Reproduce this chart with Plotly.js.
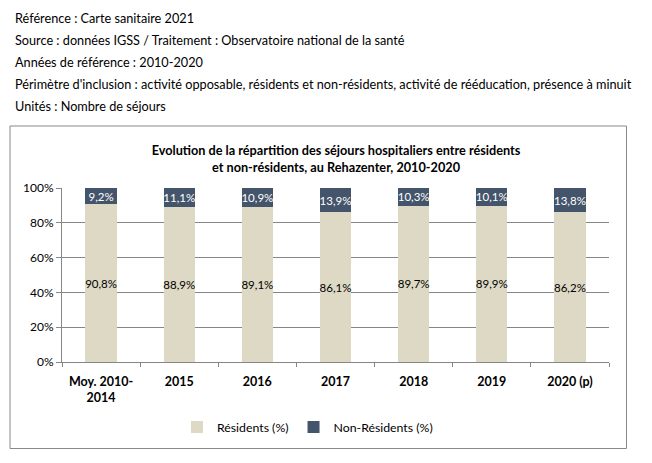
<!DOCTYPE html>
<html><head><meta charset="utf-8">
<script src="https://cdn.plot.ly/plotly-3.0.1.min.js"></script>
<style>html,body{margin:0;padding:0;background:#fff}#c{width:652px;height:463px}</style>
</head><body><div id="c"></div>
<script>
var categories = ["Moy. 2010-<br>2014", "2015", "2016", "2017", "2018", "2019", "2020 (p)"];
var residents = [90.8, 88.9, 89.1, 86.1, 89.7, 89.9, 86.2];
var nonResidents = [9.2, 11.1, 10.9, 13.9, 10.3, 10.1, 13.8];
var yTickVals = [0, 20, 40, 60, 80, 100];
var yTickLabels = ["0%", "20%", "40%", "60%", "80%", "100%"];
var headerLines = [
  "Référence : Carte sanitaire 2021",
  "Source : données IGSS / Traitement : Observatoire national de la santé",
  "Années de référence : 2010-2020",
  "Périmètre d'inclusion : activité opposable, résidents et non-résidents, activité de rééducation, présence à minuit",
  "Unités : Nombre de séjours"
];

var FONT = "Lato, Roboto, sans-serif";
var W = 652, H = 463;
var PL = 62, PR = 609, PT = 188, PB = 362;
function px(x){ return (x - PL) / (PR - PL); }
function py(y){ return (PB - y) / (PB - PT); }

var traces = [
  {type:'bar', name:'Résidents (%)', x:categories, y:residents,
   marker:{color:'#DDD9C4'}, texttemplate:'%{y:.1f}%',
   textposition:'inside', insidetextanchor:'middle', constraintext:'none', textangle:0,
   textfont:{family:FONT, size:11.5, color:'#000'}, hoverinfo:'none'},
  {type:'bar', name:'Non-Résidents (%)', x:categories, y:nonResidents,
   marker:{color:'#44546A'}, texttemplate:'%{y:.1f}%',
   textposition:'inside', insidetextanchor:'middle', constraintext:'none', textangle:0,
   textfont:{family:FONT, size:11.5, color:'#fff'}, hoverinfo:'none'}
];

var annotations = headerLines.map(function(t, i){
  return {text:t, xref:'paper', yref:'paper', x:px(13), y:py(17.5 + i*22.1),
          xanchor:'left', yanchor:'middle', showarrow:false,
          font:{family:FONT, size:12.7, color:'#000'}};
});

var layout = {
  width:W, height:H,
  margin:{l:PL, r:W-PR, t:PT, b:H-PB, pad:0},
  paper_bgcolor:'#fff', plot_bgcolor:'#fff',
  separators:', ',
  barmode:'stack', bargap:0.6,
  font:{family:FONT, size:12, color:'#000'},
  title:{text:'<b>Evolution de la répartition des séjours hospitaliers entre résidents<br>et non-résidents, au Rehazenter, 2010-2020</b>',
         x:336/W, y:1-155/H, xanchor:'center', yanchor:'middle', xref:'container', yref:'container',
         font:{family:FONT, size:12.7, color:'#000'}},
  xaxis:{type:'category', showgrid:false, showline:true, linecolor:'#868686', linewidth:1,
         ticks:'outside', tickson:'boundaries', ticklen:4, tickcolor:'#868686', tickangle:0,
         ticklabelstandoff:8,
         tickfont:{family:FONT, size:12.5, color:'#000', weight:'bold'}},
  yaxis:{range:[0,100], tickmode:'array', tickvals:yTickVals, ticktext:yTickLabels,
         showgrid:true, gridcolor:'#868686', gridwidth:1,
         showline:true, linecolor:'#868686', ticks:'outside', ticklen:5, tickcolor:'#868686',
         zeroline:false, tickfont:{family:FONT, size:12, color:'#000'}},
  showlegend:true,
  legend:{orientation:'h', x:px(177), y:py(427), xanchor:'left', yanchor:'middle',
          font:{family:FONT, size:12.3, color:'#000'}, traceorder:'normal', itemwidth:30},
  annotations:annotations,
  shapes:[{type:'rect', xref:'paper', yref:'paper', x0:px(10), x1:px(626.5), y0:py(126), y1:py(448.5),
           line:{color:'#888', width:1}, fillcolor:'rgba(0,0,0,0)', layer:'below'}]
};

Plotly.newPlot('c', traces, layout, {staticPlot:true, displayModeBar:false});
</script></body></html>
